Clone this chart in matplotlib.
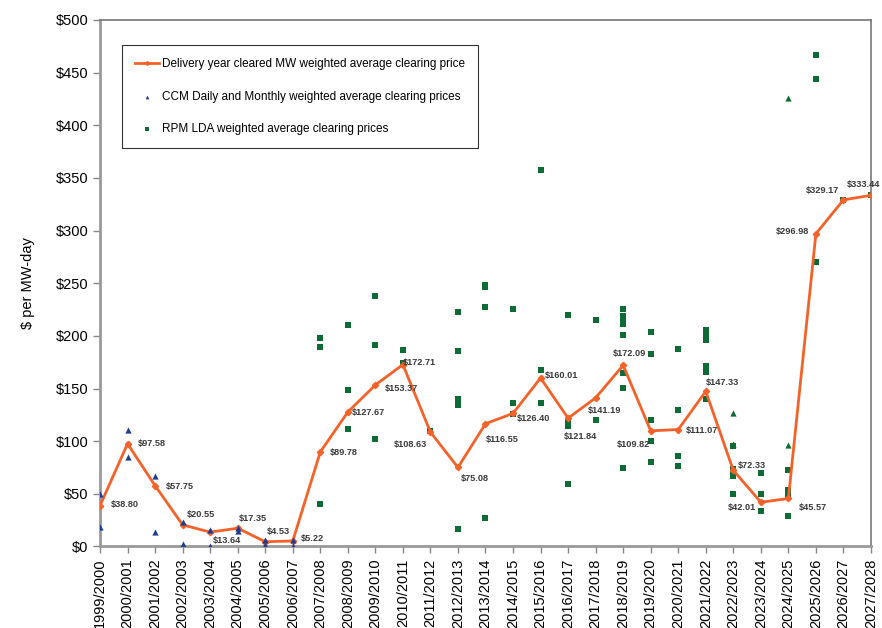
import matplotlib
matplotlib.use('Agg')
import matplotlib.pyplot as plt
from matplotlib.ticker import FuncFormatter

plt.rcParams['font.family'] = ['Liberation Sans', 'DejaVu Sans']

# delivery years
years = ['1999/2000', '2000/2001', '2001/2002', '2002/2003', '2003/2004',
         '2004/2005', '2005/2006', '2006/2007', '2007/2008', '2008/2009',
         '2009/2010', '2010/2011', '2011/2012', '2012/2013', '2013/2014',
         '2014/2015', '2015/2016', '2016/2017', '2017/2018', '2018/2019',
         '2019/2020', '2020/2021', '2021/2022', '2022/2023', '2023/2024',
         '2024/2025', '2025/2026', '2026/2027', '2027/2028']

# delivery year cleared MW weighted average clearing price
avg_price = [38.80, 97.58, 57.75, 20.55, 13.64, 17.35, 4.53, 5.22, 89.78,
             127.67, 153.37, 172.71, 108.63, 75.08, 116.55, 126.40, 160.01,
             121.84, 141.19, 172.09, 109.82, 111.07, 147.33, 72.33, 42.01,
             45.57, 296.98, 329.17, 333.44]

# CCM daily and monthly prices
ccm_year = ['1999/2000', '1999/2000', '2000/2001', '2000/2001', '2001/2002',
            '2001/2002', '2002/2003', '2002/2003', '2003/2004', '2003/2004',
            '2004/2005', '2004/2005', '2005/2006', '2005/2006', '2006/2007',
            '2006/2007']
ccm_val = [50.0, 18.3, 110.3, 85.0, 66.5, 13.5, 23.0, 2.4, 16.0, 0.3,
           17.3, 14.8, 6.0, 1.0, 6.5, 0.4]

# RPM LDA prices
rpm_year = (['2007/2008'] * 3 + ['2008/2009'] * 3 + ['2009/2010'] * 3
            + ['2010/2011'] * 2 + ['2011/2012'] * 1 + ['2012/2013'] * 5
            + ['2013/2014'] * 4 + ['2014/2015'] * 3 + ['2015/2016'] * 3
            + ['2016/2017'] * 4 + ['2017/2018'] * 2 + ['2018/2019'] * 8
            + ['2019/2020'] * 5 + ['2020/2021'] * 4 + ['2021/2022'] * 7
            + ['2022/2023'] * 5 + ['2023/2024'] * 3 + ['2024/2025'] * 5
            + ['2025/2026'] * 3 + ['2026/2027'] * 1 + ['2027/2028'] * 1)
rpm_val = [198.0, 189.0, 40.5,
           210.7, 149.0, 112.0,
           238.0, 191.5, 102.0,
           186.5, 174.5,
           110.0,
           223.0, 185.5, 140.0, 134.0, 16.4,
           248.0, 246.0, 227.0, 27.4,
           225.5, 136.7, 126.2,
           358.0, 168.0, 136.4,
           219.5, 119.0, 114.0, 59.2,
           215.4, 120.2,
           225.5, 219.0, 213.0, 211.0, 200.5, 165.0, 150.3, 74.8,
           203.3, 183.0, 120.2, 99.8, 80.2,
           188.0, 130.0, 86.2, 76.4,
           205.2, 203.0, 200.8, 195.7, 171.6, 165.9, 140.2,
           95.7, 73.5, 70.0, 67.0, 49.7,
           69.7, 49.7, 34.1,
           72.9, 54.0, 51.5, 49.0, 29.0,
           466.3, 444.3, 269.7,
           329.17,
           333.44]

# other green triangles (recent years)
tri_year = ['2022/2023', '2022/2023', '2024/2025', '2024/2025']
tri_val = [126.5, 97.3, 426.3, 96.4]

# label offsets in pixels (dx, dy, ha)
label_pos = [(11, 1, 'left'), (10, 0, 'left'), (11, -1, 'left'), (4, 10, 'left'),
             (3, -8, 'left'), (1, 10, 'left'), (2, 10, 'left'), (8, 2, 'left'),
             (10, -1, 'left'), (4, 0, 'left'), (9, -4, 'left'), (0, 2, 'left'),
             (-3, -12, 'right'), (3, -11, 'left'), (0, -16, 'left'), (4, -5, 'left'),
             (4, 2, 'left'), (-4, -18, 'left'), (-8, -13, 'left'), (-10, 12, 'left'),
             (-1, -14, 'right'), (8, -1, 'left'), (0, 9, 'left'), (5, 5, 'left'),
             (-5, -5, 'right'), (10, -9, 'left'), (-7, 2, 'right'), (-4, 9, 'right'),
             (9, 11, 'right')]

orange = '#f4622a'
navy = '#1f3c93'
green = '#0e6b36'

fig = plt.figure(figsize=(8.82, 6.28), dpi=100)
ax = fig.add_axes([0.1134, 0.1298, 0.8741, 0.8384])

ax.plot(years, avg_price, color=orange, lw=2, marker='D', ms=3.2,
        label='Delivery year cleared MW weighted average clearing price', zorder=3)
ax.scatter(ccm_year, ccm_val, marker='^', s=20, color=navy, lw=0,
           label='CCM Daily and Monthly weighted average clearing prices', zorder=4)
ax.scatter(rpm_year, rpm_val, marker='s', s=20, color=green, lw=0,
           label='RPM LDA weighted average clearing prices', zorder=2)
ax.scatter(tri_year, tri_val, marker='^', s=20, color=green, lw=0, zorder=2)

for i, v in enumerate(avg_price):
    dx, dy, ha = label_pos[i]
    ax.annotate('${:.2f}'.format(v), (i, v), xytext=(dx, dy),
                textcoords='offset pixels', ha=ha, va='center',
                fontsize=6.6, fontweight='bold', color='#3a3a3a',
                annotation_clip=False, zorder=5)

ax.set_xlim(0, len(years) - 1)
ax.set_ylim(0, 500)
ax.set_yticks(range(0, 501, 50))
ax.yaxis.set_major_formatter(FuncFormatter(lambda v, p: '${:d}'.format(int(v))))
ax.tick_params(axis='x', labelrotation=90, labelsize=10.5, length=5,
               color='#888888', width=1)
ax.tick_params(axis='y', labelsize=10.5, length=5, color='#888888', width=1)
ax.set_ylabel('$ per MW-day', fontsize=10.5, labelpad=15)

for side in ['left', 'bottom']:
    ax.spines[side].set_color('#999999')
    ax.spines[side].set_linewidth(2)
for side in ['top', 'right']:
    ax.spines[side].set_color('#777777')
    ax.spines[side].set_linewidth(1.2)

leg = ax.legend(loc='upper left', bbox_to_anchor=(0.028, 0.9525),
                borderaxespad=0, fontsize=8.5, frameon=True, fancybox=False,
                labelspacing=1.75, handlelength=2.1, handletextpad=0.2,
                borderpad=1.1, markerscale=0.6)
leg.get_frame().set_edgecolor('black')
leg.get_frame().set_linewidth(0.8)

fig.savefig('out.png', dpi=100)
